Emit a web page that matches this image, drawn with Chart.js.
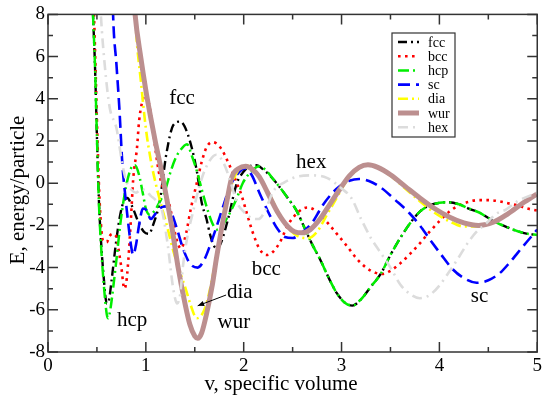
<!DOCTYPE html>
<html><head><meta charset="utf-8">
<script src="https://cdn.jsdelivr.net/npm/chart.js@4/dist/chart.umd.min.js"></script>
<style>html,body{margin:0;padding:0;background:#fff;}canvas{display:block;}</style>
</head><body>
<canvas id="c" width="545" height="399"></canvas>
<script>
// ---- data: [specific volume v, energy/particle E] ----
const fccData = [[0.445,10],[0.46,8],[0.48,5.6],[0.5,2.2],[0.52,-0.8],[0.54,-2.6],[0.57,-4.5],[0.6,-5.7],[0.62,-5.6],[0.65,-4.6],[0.69,-3.0],[0.73,-1.7],[0.77,-0.9],[0.81,-0.7],[0.86,-1.1],[0.92,-1.8],[0.98,-2.3],[1.03,-2.4],[1.08,-1.9],[1.14,-0.9],[1.21,1.4],[1.28,2.75],[1.35,2.92],[1.43,2.3],[1.52,0.6],[1.57,-0.9],[1.62,-1.7],[1.66,-2.5],[1.7,-3.0],[1.73,-3.1],[1.77,-2.8],[1.84,-1.7],[1.93,0],[2.0,0.55],[2.06,0.8],[2.13,0.85],[2.2,0.65],[2.3,0.2],[2.37,-0.2],[2.45,-0.7],[2.54,-1.3],[2.62,-2.1],[2.7,-2.9],[2.78,-3.6],[2.87,-4.5],[2.95,-5.2],[3.03,-5.65],[3.11,-5.8],[3.2,-5.5],[3.3,-4.9],[3.4,-4.3],[3.5,-3.4],[3.6,-2.6],[3.7,-1.9],[3.8,-1.35],[3.9,-1.05],[4.0,-0.93],[4.07,-0.9],[4.2,-1.0],[4.3,-1.2],[4.41,-1.4],[4.5,-1.65],[4.6,-1.9],[4.7,-2.1],[4.8,-2.28],[4.9,-2.4],[5.0,-2.45]];
const bccData = [[0.455,10],[0.47,8],[0.485,5.6],[0.5,3.0],[0.52,0.0],[0.535,-1.5],[0.56,-2.7],[0.6,-2.8],[0.63,-2.5],[0.66,-2.4],[0.7,-2.55],[0.72,-3.1],[0.75,-4.0],[0.78,-5.0],[0.8,-4.7],[0.82,-3.7],[0.85,-1.5],[0.87,0.15],[0.91,1.7],[0.93,2.9],[0.96,3.8],[1.0,4.2],[1.03,3.8],[1.06,3.0],[1.09,1.9],[1.13,0.6],[1.18,-0.3],[1.24,-1.0],[1.31,-2.6],[1.36,-3.1],[1.41,-2.4],[1.46,-1.2],[1.52,0],[1.57,1.0],[1.62,1.7],[1.68,1.95],[1.76,1.7],[1.85,0.9],[1.93,0],[1.98,-0.6],[2.03,-1.4],[2.09,-2.3],[2.16,-3.1],[2.23,-3.4],[2.3,-3.25],[2.37,-2.8],[2.45,-2.0],[2.55,-1.4],[2.65,-1.15],[2.75,-1.35],[2.88,-2.0],[2.97,-2.5],[3.05,-2.95],[3.15,-3.55],[3.25,-4.0],[3.35,-4.25],[3.42,-4.3],[3.5,-4.15],[3.6,-3.8],[3.7,-3.35],[3.8,-2.85],[3.9,-2.3],[4.0,-1.8],[4.1,-1.35],[4.2,-1.05],[4.3,-0.88],[4.4,-0.8],[4.5,-0.8],[4.6,-0.85],[4.7,-0.95],[4.8,-1.05],[4.9,-1.2],[5.0,-1.3]];
const hcpData = [[0.445,10],[0.46,8],[0.48,5.6],[0.5,2.2],[0.52,-0.9],[0.54,-2.8],[0.57,-4.8],[0.6,-6.2],[0.615,-6.4],[0.64,-5.9],[0.67,-4.8],[0.7,-3.6],[0.74,-1.9],[0.78,-0.6],[0.82,0.3],[0.86,0.8],[0.89,0.85],[0.93,0.4],[0.97,-0.5],[1.0,-1.2],[1.04,-1.5],[1.09,-1.3],[1.14,-0.9],[1.2,-0.3],[1.25,0.5],[1.3,1.15],[1.35,1.55],[1.42,1.85],[1.47,1.3],[1.52,0.6],[1.58,-0.45],[1.64,-1.4],[1.69,-2.0],[1.73,-2.2],[1.78,-2.0],[1.86,-1.4],[1.93,-0.7],[1.99,0],[2.06,0.47],[2.16,0.8],[2.23,0.6],[2.3,0.2],[2.37,-0.2],[2.45,-0.7],[2.54,-1.3],[2.62,-2.1],[2.7,-2.9],[2.78,-3.6],[2.87,-4.5],[2.95,-5.2],[3.03,-5.65],[3.11,-5.8],[3.2,-5.5],[3.3,-4.9],[3.4,-4.3],[3.5,-3.4],[3.6,-2.6],[3.7,-1.9],[3.8,-1.35],[3.9,-1.05],[4.0,-0.93],[4.07,-0.9],[4.2,-1.0],[4.3,-1.2],[4.41,-1.4],[4.5,-1.65],[4.6,-1.9],[4.7,-2.1],[4.8,-2.28],[4.9,-2.4],[5.0,-2.45]];
const scData = [[0.655,10],[0.665,8],[0.7,5.6],[0.73,3.5],[0.76,0.9],[0.79,-0.6],[0.82,-1.9],[0.85,-3.0],[0.87,-3.4],[0.9,-2.9],[0.93,-2.0],[0.97,-1.2],[1.01,-1.3],[1.05,-1.7],[1.09,-1.5],[1.14,-1.2],[1.2,-1.1],[1.26,-1.4],[1.32,-2.2],[1.38,-3.1],[1.45,-3.8],[1.53,-4.0],[1.6,-3.6],[1.66,-2.9],[1.72,-2.1],[1.79,-1.1],[1.86,-0.15],[1.93,0.4],[2.01,0.7],[2.08,0.4],[2.16,-0.45],[2.27,-1.55],[2.35,-2.2],[2.42,-2.55],[2.5,-2.6],[2.58,-2.4],[2.7,-1.86],[2.8,-1.1],[2.88,-0.6],[2.98,-0.15],[3.08,0.12],[3.18,0.2],[3.28,0.1],[3.4,-0.2],[3.55,-0.8],[3.69,-1.4],[3.8,-2.0],[3.9,-2.65],[4.02,-3.4],[4.13,-4.05],[4.25,-4.5],[4.38,-4.72],[4.5,-4.6],[4.62,-4.25],[4.72,-3.75],[4.8,-3.3],[4.89,-2.8],[5.0,-2.2]];
const diaData = [[0.87,10],[0.9,7.2],[0.95,4.8],[1.0,2.6],[1.05,1.1],[1.1,0.0],[1.16,-1.1],[1.22,-2.1],[1.28,-3.2],[1.34,-4.1],[1.4,-4.9],[1.46,-5.8],[1.52,-6.4],[1.57,-6.25],[1.62,-5.7],[1.67,-4.7],[1.72,-3.5],[1.78,-2.0],[1.83,-0.9],[1.89,0.1],[1.95,0.65],[2.02,0.85],[2.1,0.65],[2.18,0.15],[2.27,-0.6],[2.37,-1.5],[2.47,-2.2],[2.57,-2.55],[2.66,-2.6],[2.75,-2.3],[2.85,-1.5],[2.95,-0.7],[3.05,0.1],[3.15,0.6],[3.25,0.87],[3.35,0.78],[3.5,0.35],[3.65,-0.25],[3.8,-0.85],[3.95,-1.4],[4.1,-1.8],[4.25,-2.05],[4.4,-2.05],[4.55,-1.85],[4.7,-1.45],[4.85,-0.95],[5.0,-0.5]];
const wurData = [[0.86,10],[0.89,8],[0.95,5.9],[1.0,4.4],[1.05,3.1],[1.1,1.9],[1.15,0.8],[1.2,-0.4],[1.27,-2.2],[1.33,-4.0],[1.4,-5.7],[1.45,-6.7],[1.5,-7.25],[1.53,-7.35],[1.57,-7.1],[1.62,-6.2],[1.68,-4.8],[1.72,-3.6],[1.78,-2.0],[1.83,-0.8],[1.88,0.3],[1.95,0.7],[2.02,0.8],[2.09,0.65],[2.16,0.3],[2.25,-0.5],[2.35,-1.4],[2.45,-2.05],[2.52,-2.3],[2.6,-2.35],[2.68,-2.2],[2.78,-1.7],[2.88,-1.0],[2.98,-0.3],[3.08,0.35],[3.18,0.75],[3.27,0.87],[3.37,0.75],[3.5,0.4],[3.65,-0.15],[3.8,-0.7],[3.95,-1.2],[4.1,-1.6],[4.25,-1.88],[4.4,-2.0],[4.55,-1.85],[4.7,-1.45],[4.85,-0.95],[5.0,-0.5]];
const hexData = [[0.52,10],[0.54,8],[0.58,5.6],[0.63,3.6],[0.7,2.6],[0.76,0.9],[0.8,0.1],[0.85,-0.3],[0.9,-0.45],[0.95,-0.3],[1.0,-0.35],[1.05,-0.6],[1.1,-0.8],[1.16,-1.2],[1.22,-2.8],[1.28,-5.0],[1.32,-5.7],[1.35,-5.3],[1.38,-3.9],[1.43,-2.4],[1.48,-1.4],[1.55,-0.1],[1.62,0.8],[1.72,1.35],[1.8,0.9],[1.87,0],[1.93,-0.9],[2.0,-1.35],[2.08,-1.65],[2.15,-1.7],[2.22,-1.3],[2.3,-0.4],[2.42,0.05],[2.54,0.3],[2.7,0.37],[2.85,0.25],[3.0,-0.25],[3.1,-0.7],[3.2,-1.7],[3.3,-2.6],[3.4,-3.3],[3.5,-4.0],[3.6,-4.8],[3.7,-5.25],[3.8,-5.45],[3.9,-5.3],[4.0,-4.85],[4.1,-4.2],[4.2,-3.5],[4.28,-2.9],[4.38,-2.3],[4.48,-1.9],[4.58,-1.45],[4.68,-1.25],[4.8,-0.85],[4.92,-0.6],[5.0,-0.45]];

const seriesNames = ['fcc','bcc','hcp','sc','dia','wur','hex'];
const xTicks = [0,1,2,3,4,5];
const yTicks = [-8,-6,-4,-2,0,2,4,6,8];
const xTitle = 'v, specific volume';
const yTitle = 'E, energy/particle';
// in-plot text labels (anchored in data coordinates)
const noteText = ['fcc','bcc','hcp','sc','dia','wur','hex'];
const noteV = [1.37, 2.23, 0.86, 4.41, 1.96, 1.9, 2.69];
const noteE = [4.0, -4.1, -6.5, -5.35, -5.2, -6.6, 1.0];
const arrowFrom = [1.82, -5.3];
const arrowTo = [1.53, -5.81];

const toPts = d => d.map(p => ({x: p[0], y: p[1]}));
const SERIF = '"Liberation Serif", "Times New Roman", serif';

const styles = {
  fcc: {color:'#000000', width:2.4, dash:[9,4,2,4], order:7},
  bcc: {color:'#ff0000', width:2.6, dash:[2.6,4.4], order:6},
  hcp: {color:'#00ee00', width:2.5, dash:[11,4,2,4], order:5},
  sc:  {color:'#0000ff', width:2.6, dash:[12,6], order:4},
  dia: {color:'#ffff00', width:2.6, dash:[10,4,2,4], order:3},
  wur: {color:'#bc8f8f', width:5, dash:[], order:2},
  hex: {color:'#dcdcdc', width:2.6, dash:[10,5,2,5], order:1}
};
const allData = {fcc:fccData, bcc:bccData, hcp:hcpData, sc:scData, dia:diaData, wur:wurData, hex:hexData};

const datasets = seriesNames.map(n => ({
  label: n,
  data: toPts(allData[n]),
  borderColor: styles[n].color,
  backgroundColor: styles[n].color,
  borderWidth: styles[n].width,
  borderDash: styles[n].dash,
  borderCapStyle: 'butt',
  pointRadius: 0,
  fill: false,
  cubicInterpolationMode: 'monotone',
  order: styles[n].order
}));

const framePlugin = {
  id: 'frame',
  afterDatasetsDraw(chart) {
    const {ctx, chartArea: a, scales: {x, y}} = chart;
    ctx.save();
    ctx.strokeStyle = '#333';
    ctx.lineWidth = 1.5;
    ctx.strokeRect(a.left, a.top, a.right - a.left, a.bottom - a.top);
    ctx.beginPath();
    for (let v = 0; v <= 5.001; v += 0.5) {
      const px = x.getPixelForValue(v);
      const L = (Math.abs(v - Math.round(v)) < 1e-6) ? 10 : 5;
      ctx.moveTo(px, a.bottom); ctx.lineTo(px, a.bottom - L);
      ctx.moveTo(px, a.top); ctx.lineTo(px, a.top + L);
    }
    for (let e = -8; e <= 8; e += 1) {
      const py = y.getPixelForValue(e);
      const L = (e % 2 === 0) ? 10 : 5;
      ctx.moveTo(a.left, py); ctx.lineTo(a.left + L, py);
      ctx.moveTo(a.right, py); ctx.lineTo(a.right - L, py);
    }
    ctx.stroke();

    // axis titles
    ctx.fillStyle = '#000';
    ctx.font = '21px ' + SERIF;
    ctx.textAlign = 'center';
    ctx.textBaseline = 'middle';
    ctx.fillText(xTitle, 281, 384);
    ctx.save();
    ctx.translate(18, 190);
    ctx.rotate(-Math.PI / 2);
    ctx.fillText(yTitle, 0, 0);
    ctx.restore();

    // annotations
    noteText.forEach((t, i) => {
      ctx.fillText(t, x.getPixelForValue(noteV[i]), y.getPixelForValue(noteE[i]));
    });
    // arrow
    const x1 = x.getPixelForValue(arrowFrom[0]), y1 = y.getPixelForValue(arrowFrom[1]);
    const x2 = x.getPixelForValue(arrowTo[0]), y2 = y.getPixelForValue(arrowTo[1]);
    ctx.strokeStyle = '#000'; ctx.lineWidth = 1; ctx.setLineDash([]);
    ctx.beginPath(); ctx.moveTo(x1, y1); ctx.lineTo(x2, y2); ctx.stroke();
    const ang = Math.atan2(y2 - y1, x2 - x1);
    ctx.beginPath();
    ctx.moveTo(x2, y2);
    ctx.lineTo(x2 - 7*Math.cos(ang - 0.4), y2 - 7*Math.sin(ang - 0.4));
    ctx.lineTo(x2 - 7*Math.cos(ang + 0.4), y2 - 7*Math.sin(ang + 0.4));
    ctx.closePath(); ctx.fill();

    // legend box
    const bx = 392, by = 33, bw = 63, bh = 104;
    ctx.fillStyle = '#fff';
    ctx.fillRect(bx, by, bw, bh);
    ctx.strokeStyle = '#333'; ctx.lineWidth = 1.2;
    ctx.strokeRect(bx, by, bw, bh);
    ctx.font = '14px ' + SERIF;
    ctx.textAlign = 'left';
    chart.data.datasets.forEach((ds, i) => {
      const ry = 42 + i * 14.2;
      ctx.save();
      ctx.strokeStyle = ds.borderColor;
      ctx.lineWidth = Math.min(ds.borderWidth, 5);
      ctx.setLineDash(ds.borderDash || []);
      ctx.beginPath(); ctx.moveTo(398, ry); ctx.lineTo(419, ry); ctx.stroke();
      ctx.restore();
      ctx.fillStyle = '#000';
      ctx.fillText(ds.label, 428, ry + 1);
    });
    ctx.restore();
  }
};

new Chart(document.getElementById('c'), {
  type: 'line',
  data: { datasets },
  options: {
    responsive: false,
    animation: false,
    events: [],
    layout: { padding: { top: 8, right: 7, left: 0, bottom: 0 } },
    plugins: { legend: { display: false }, tooltip: { enabled: false } },
    scales: {
      x: {
        type: 'linear', min: 0, max: 5,
        afterBuildTicks: s => { s.ticks = xTicks.map(v => ({value: v})); },
        afterFit: s => { s.height = 47; },
        grid: { display: false, drawTicks: false },
        border: { display: false },
        ticks: { color: '#000', font: { family: SERIF, size: 19 }, padding: 3, maxRotation: 0 },
        title: { display: false }
      },
      y: {
        type: 'linear', min: -8, max: 8,
        afterBuildTicks: s => { s.ticks = yTicks.map(v => ({value: v})); },
        afterFit: s => { s.width = 48; },
        grid: { display: false, drawTicks: false },
        border: { display: false },
        ticks: { color: '#000', font: { family: SERIF, size: 19 }, padding: 3 },
        title: { display: false }
      }
    }
  },
  plugins: [framePlugin]
});
</script>
</body></html>
